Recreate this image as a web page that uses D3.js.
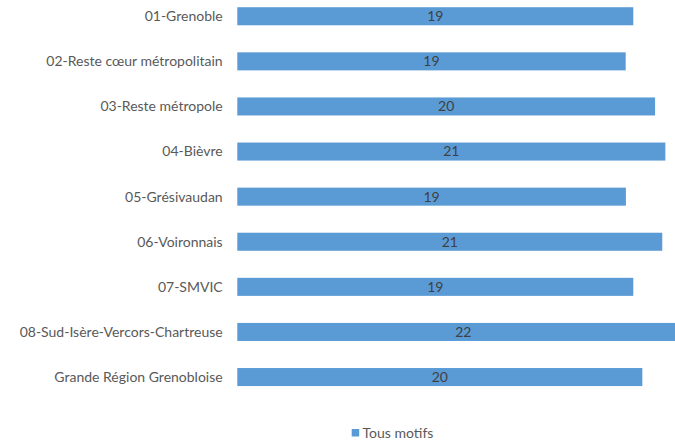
<!DOCTYPE html>
<html>
<head>
<meta charset="utf-8">
<script src="https://cdn.jsdelivr.net/npm/d3@7"></script>
<style>
  body { margin: 0; background: #fff; }
  svg { display: block; }
</style>
</head>
<body>
<svg id="chart" width="675" height="440"></svg>
<script>
// --- data ---
var categories = [
  "01-Grenoble",
  "02-Reste cœur métropolitain",
  "03-Reste métropole",
  "04-Bièvre",
  "05-Grésivaudan",
  "06-Voironnais",
  "07-SMVIC",
  "08-Sud-Isère-Vercors-Chartreuse",
  "Grande Région Grenobloise"
]
var values = [19.27, 18.9, 20.33, 20.83, 18.91, 20.68, 19.27, 22.0, 19.71]
var seriesName = "Tous motifs"

var W = 675, H = 440
var svg = d3.select("#chart")
var font = "Lato, 'Open Sans', sans-serif"

//---scales---
var x = d3.scaleLinear().domain([0, 25]).range([237.3, 237.3 + 25 * 20.55])
var y = d3.scaleBand().domain(categories).range([-6.3, 399.6])
    .paddingInner(0.6).paddingOuter(0.3)

//---pick font size: the two long labels are ~178px and ~201px wide in the reference---
var probe = svg.append("text").attr("font-family", font).attr("font-size", 12)
probe.text("02-Reste cœur métropolitain")
var k1 = 177.7 / probe.node().getComputedTextLength()
probe.text("08-Sud-Isère-Vercors-Chartreuse")
var k2 = 201.5 / probe.node().getComputedTextLength()
probe.remove()
var fs = 12 * (k1 + k2) / 2

//---category labels---
svg.append("g").selectAll("text")
    .data(categories)
    .join("text")
    .attr("x", 222.7)
    .attr("y", function(d){ return y(d) + y.bandwidth() / 2 })
    .attr("dy", "0.35em")
    .attr("text-anchor", "end")
    .attr("font-family", font)
    .attr("font-size", fs)
    .attr("fill", "#595959")
    .text(function(d){ return d })

//---bars---
svg.append("g").selectAll("rect")
    .data(values)
    .join("rect")
    .attr("x", x(0))
    .attr("y", function(d, i){ return y(categories[i]) })
    .attr("width", function(d){ return x(d) - x(0) })
    .attr("height", y.bandwidth())
    .attr("fill", "#5b9bd5")

//---value labels centred in bar---
svg.append("g").selectAll("text")
    .data(values)
    .join("text")
    .attr("x", function(d){ return (x(0) + x(d)) / 2 })
    .attr("y", function(d, i){ return y(categories[i]) + y.bandwidth() / 2 })
    .attr("dy", "0.35em")
    .attr("text-anchor", "middle")
    .attr("font-family", font)
    .attr("font-size", fs)
    .attr("fill", "#404040")
    .text(function(d){ return d3.format(".0f")(d) })

//---legend---
var lg = svg.append("g")
lg.append("rect")
    .attr("x", 351.7).attr("y", 429)
    .attr("width", 7.5).attr("height", 7.5)
    .attr("fill", "#5b9bd5")
lg.append("text")
    .attr("x", 362.5).attr("y", 432.8)
    .attr("dy", "0.35em")
    .attr("font-family", font)
    .attr("font-size", fs)
    .attr("fill", "#595959")
    .text(seriesName)
</script>
</body>
</html>
